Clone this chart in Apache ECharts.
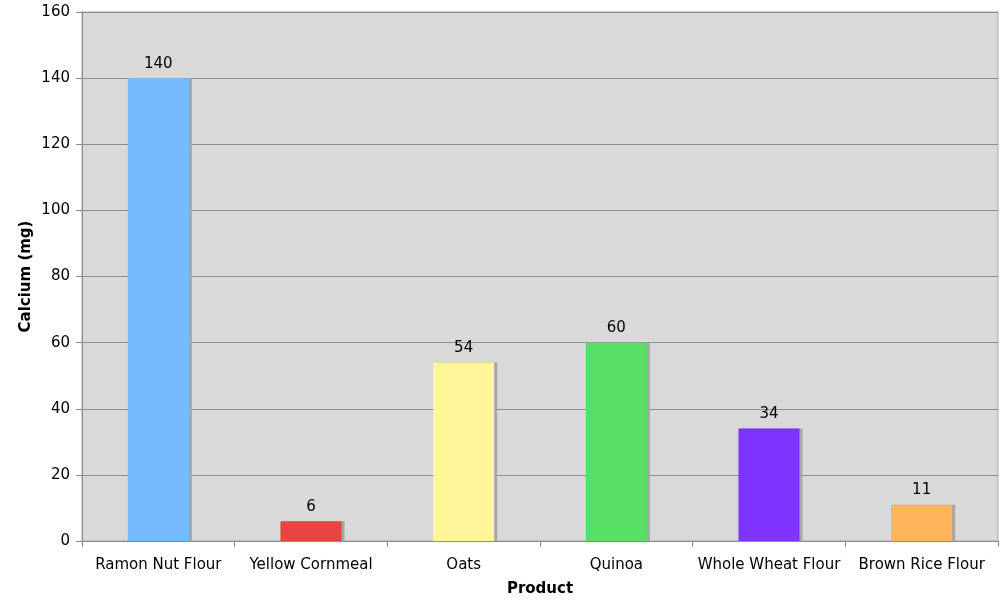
<!DOCTYPE html>
<html>
<head>
<meta charset="utf-8">
<script src="https://cdn.jsdelivr.net/npm/echarts@6/dist/echarts.min.js"></script>
<style>
  html, body { margin: 0; padding: 0; background: #ffffff; }
  #chart { width: 1006px; height: 601px; }
</style>
</head>
<body>
<div id="chart"></div>
<script>
// Calcium content per product (mg)
const categories = ['Ramon Nut Flour', 'Yellow Cornmeal', 'Oats', 'Quinoa', 'Whole Wheat Flour', 'Brown Rice Flour'];
const calcium = [140, 6, 54, 60, 34, 11];
const barColors = ['#77bbff', '#e84444', '#fff599', '#58e066', '#7f33ff', '#ffb55a'];

const font = 'DejaVu Sans, Verdana, sans-serif';
const chart = echarts.init(document.getElementById('chart'));

chart.setOption({
  animation: false,
  textStyle: { fontFamily: font },
  grid: {
    left: 82, right: 8, top: 12, bottom: 60,
    outerBoundsMode: 'none',
    containLabel: false,
    show: true,
    backgroundColor: '#d9d9d9',
    borderColor: '#a8a8a8',
    borderWidth: 1
  },
  xAxis: {
    type: 'category',
    data: categories,
    name: 'Product',
    nameLocation: 'middle',
    nameGap: 41,
    nameMoveOverlap: false,
    nameTextStyle: { fontFamily: font, fontSize: 15, fontWeight: 'bold', color: '#000' },
    axisLine: { lineStyle: { color: '#8c8c8c', width: 1 } },
    axisTick: { show: true, alignWithLabel: false, length: 6, lineStyle: { color: '#8c8c8c' } },
    axisLabel: { fontFamily: font, fontSize: 15, color: '#000', margin: 17, interval: 0 }
  },
  yAxis: {
    type: 'value',
    min: 0, max: 160, interval: 20,
    name: 'Calcium (mg)',
    nameLocation: 'middle',
    nameGap: 48,
    nameMoveOverlap: false,
    nameTextStyle: { fontFamily: font, fontSize: 15, fontWeight: 'bold', color: '#000' },
    axisLine: { show: true, lineStyle: { color: '#8c8c8c', width: 1 } },
    axisTick: { show: true, length: 6, lineStyle: { color: '#8c8c8c' } },
    axisLabel: { fontFamily: font, fontSize: 15, color: '#000', margin: 12 },
    splitLine: { show: true, lineStyle: { color: '#8c8c8c', width: 1 } }
  },
  series: [{
    type: 'bar',
    barWidth: '40%',
    data: calcium.map((v, i) => ({
      value: v,
      itemStyle: {
        color: barColors[i],
        shadowColor: '#a6a6a6',
        shadowOffsetX: 3,
        shadowOffsetY: 0,
        shadowBlur: 0
      }
    })),
    label: {
      show: true,
      position: 'top',
      distance: 7,
      fontFamily: font,
      fontSize: 15,
      color: '#000'
    }
  }]
});
</script>
</body>
</html>
